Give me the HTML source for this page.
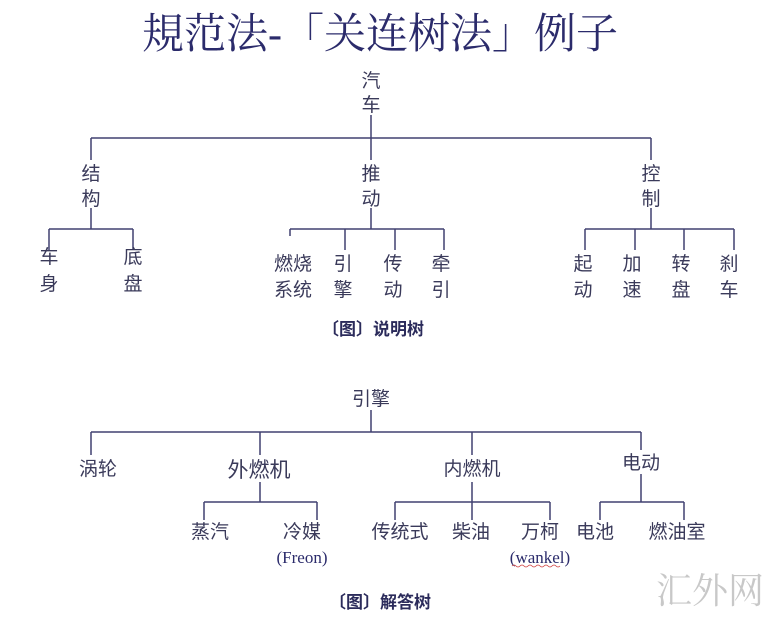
<!DOCTYPE html>
<html><head><meta charset="utf-8"><style>
html,body{margin:0;padding:0;background:#fff;}
svg{display:block;}
text{font-family:"Liberation Sans","Noto Sans CJK SC",sans-serif;fill:#3a3a5a;}
.t{font-family:"Liberation Serif","Noto Serif CJK SC",serif;fill:#2b2b6b;}
.b{font-weight:bold;fill:#2b2b5b;}
</style></head><body>
<svg width="777" height="623" viewBox="0 0 777 623">
<text class="t" x="380" y="48" font-size="42" text-anchor="middle">規范法-「关连树法」例子</text>
<g stroke="#404070" stroke-width="1.5" fill="none">
<!-- top tree -->
<path d="M371 115V138M91 138H651M91 138V160M371 138V160M651 138V160"/>
<path d="M91 208V229M49 229H133M49 229V250M133 229V250"/>
<path d="M371 208V229M290 229H444M290 229V236M345 229V250M395 229V250M444 229V250"/>
<path d="M651 208V229M585 229H734M585 229V250M635 229V250M684 229V250M734 229V250"/>
<!-- bottom tree -->
<path d="M371 410V432M91 432H641M91 432V455M260 432V455M472 432V455M641 432V450"/>
<path d="M260 482V502M204 502H317M204 502V520M317 502V520"/>
<path d="M472 482V502M395 502H550M395 502V520M472 502V520M550 502V520"/>
<path d="M641 474V502M600 502H684M600 502V520M684 502V520"/>
</g>
<g font-size="19" text-anchor="middle">
<text x="371" y="87">汽</text><text x="371" y="111">车</text>
<text x="91" y="180">结</text><text x="91" y="205">构</text>
<text x="371" y="180">推</text><text x="371" y="205">动</text>
<text x="651" y="180">控</text><text x="651" y="205">制</text>
<text x="49" y="263">车</text><text x="49" y="290">身</text>
<text x="133" y="263">底</text><text x="133" y="290">盘</text>
<text x="293" y="270">燃烧</text><text x="293" y="296">系统</text>
<text x="343" y="270">引</text><text x="343" y="296">擎</text>
<text x="393" y="270">传</text><text x="393" y="296">动</text>
<text x="441" y="270">牵</text><text x="441" y="296">引</text>
<text x="583" y="270">起</text><text x="583" y="296">动</text>
<text x="632" y="270">加</text><text x="632" y="296">速</text>
<text x="681" y="270">转</text><text x="681" y="296">盘</text>
<text x="729" y="270">刹</text><text x="729" y="296">车</text>
<text x="371" y="405">引擎</text>
<text x="98" y="475">涡轮</text>
<text x="259" y="477" font-size="21">外燃机</text>
<text x="472" y="475">内燃机</text>
<text x="641" y="469">电动</text>
<text x="210" y="538">蒸汽</text>
<text x="302" y="538">冷媒</text>
<text x="400" y="538">传统式</text>
<text x="471" y="538">柴油</text>
<text x="540" y="538">万柯</text>
<text x="595" y="538">电池</text>
<text x="677" y="538">燃油室</text>
</g>
<text class="t" x="302" y="563" font-size="17" text-anchor="middle">(Freon)</text>
<text class="t" x="540" y="563" font-size="17" text-anchor="middle">(wankel)</text>
<path d="M512 566q2-2 4 0t4 0t4 0t4 0t4 0t4 0t4 0t4 0t4 0t4 0t4 0t4 0" stroke="#d04040" stroke-width="0.8" fill="none"/>
<text class="b" x="373" y="335" font-size="17" text-anchor="middle">〔图〕说明树</text>
<text class="b" x="380" y="608" font-size="17" text-anchor="middle">〔图〕解答树</text>
<text x="710" y="603" font-size="36" text-anchor="middle" style="fill:#c8c8c8;font-family:'Liberation Serif','Noto Serif CJK SC',serif">汇外网</text>
</svg>
</body></html>
